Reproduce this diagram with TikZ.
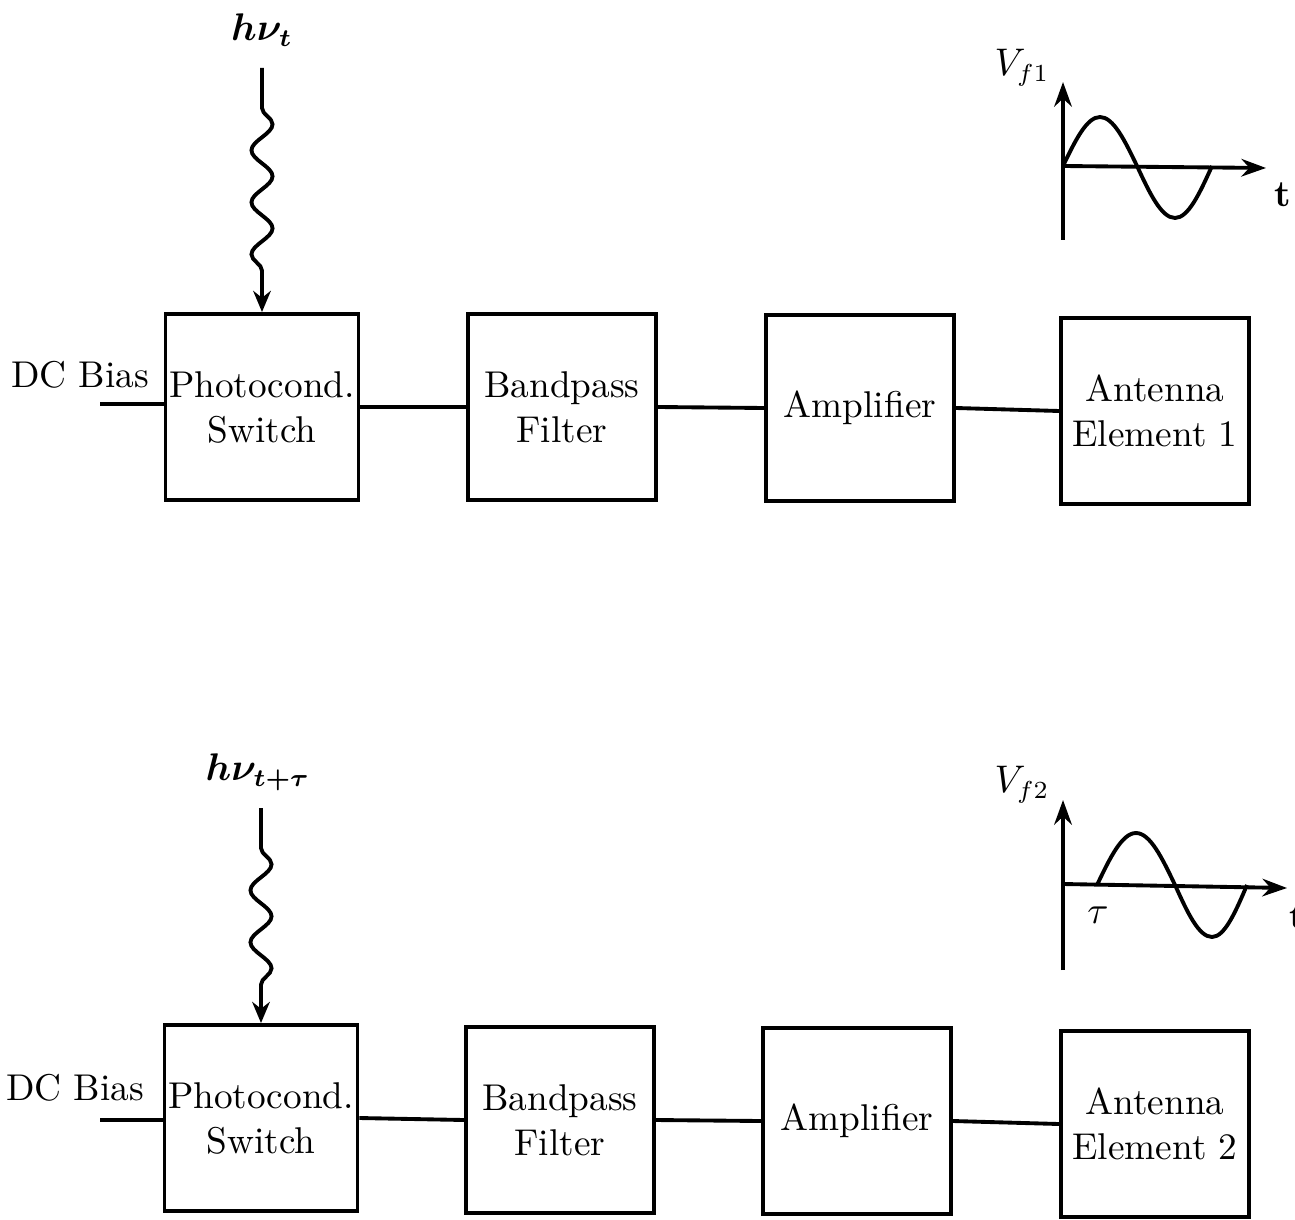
\documentclass[tikz,border=0pt]{standalone}
\usepackage{amsmath,amssymb,bm}
\usepackage{tikz}
\usetikzlibrary{decorations.pathmorphing, arrows.meta}

\begin{document}
\begin{tikzpicture}[x=0.01cm, y=-0.01cm, line width=1.1pt,
    % --- styles ---
    photon/.style={decorate, decoration={snake, amplitude=3pt, segment length=0.52cm,
        pre length=0.4cm, post length=0.3cm}, -{Stealth[length=6pt, width=5pt]}},
    % signal-chain block
    block/.style={draw, minimum width=1.88cm, minimum height=1.86cm, inner sep=1pt,
        align=center, font=\fontsize{10.6}{12.8}\selectfont},
    % plain text labels
    tag/.style={inner sep=1pt, font=\fontsize{10.6}{12.8}\selectfont},
    % axes of the small waveform plots
    axis/.style={-{Stealth[length=7pt, width=5pt]}}
]
    \useasboundingbox (0,0) rectangle (1295,1219);

    % =========================================
    % Row 1: element 1, switched at t
    % =========================================
    \begin{scope}[shift={(0,0)}]
        \node[block] (sw1)  at (262,407)  {Photocond.\\ Switch};
        \node[block] (bp1)  at (562,407)  {Bandpass\\ Filter};
        \node[block] (amp1) at (860,408)  {Amplifier};
        \node[block] (ant1) at (1155,411) {Antenna\\ Element 1};

        % 1. chain
        \draw (sw1.east) -- (bp1.west);
        \draw (bp1.east) -- (amp1.west);
        \draw (amp1.east) -- (ant1.west);

        % 2. bias input
        \node[tag] (dc1) at (80,375) {DC Bias};
        \coordinate (bias1) at (100,404);
        \draw (bias1) -- (bias1 -| sw1.west);

        % 3. optical pulse
        \node[tag] (hvlab1) at (262,30) {$\bm{h\nu_t}$};
        \coordinate (hv1) at (262,68);
        \draw[photon] (hv1) -- (sw1.north);

        % 4. radiated waveform
        \draw[axis] (1063,240) -- (1063,82);
        \draw[axis] (1063,166) -- (1266,168);
        \draw (1063,166) sin (1100,117) cos (1137,166) sin (1175,218) cos (1212,166);
        \node[tag] (vf1) at (1022,68) {$V_{f1}$};
        \node[tag] (t1) at (1283,195) {\textbf{t}};
    \end{scope}

    % =========================================
    % Row 2: element 2, switched at t+tau
    % =========================================
    \begin{scope}[shift={(0,712)}]
        \node[block] (sw2)  at (261,406)  {Photocond.\\ Switch};
        \node[block] (bp2)  at (560,408)  {Bandpass\\ Filter};
        \node[block] (amp2) at (857,409)  {Amplifier};
        \node[block] (ant2) at (1155,412) {Antenna\\ Element 2};

        % 1. chain
        \draw (sw2.east) -- (bp2.west);
        \draw (bp2.east) -- (amp2.west);
        \draw (amp2.east) -- (ant2.west);

        % 2. bias input
        \node[tag] (dc2) at (75,376) {DC Bias};
        \coordinate (bias2) at (100,408);
        \draw (bias2) -- (bias2 -| sw2.west);

        % 3. optical pulse (delayed)
        \node[tag] (hvlab2) at (258,60) {$\bm{h\nu_{t+\tau}}$};
        \coordinate (hv2) at (261,96);
        \draw[photon] (hv2) -- (sw2.north);

        % 4. radiated waveform, delayed by tau
        \draw[axis] (1063,258) -- (1063,88);
        \draw[axis] (1063,172) -- (1287,176);
        \draw (1097,173) sin (1136,121) cos (1175,173) sin (1212,225) cos (1247,173);
        \node[tag] (vf2) at (1022,73) {$V_{f2}$};
        \node[tag] (tau2) at (1098,203) {$\tau$};
        \node[tag] (t2) at (1298,205) {\textbf{t}};
    \end{scope}

\end{tikzpicture}
\end{document}
